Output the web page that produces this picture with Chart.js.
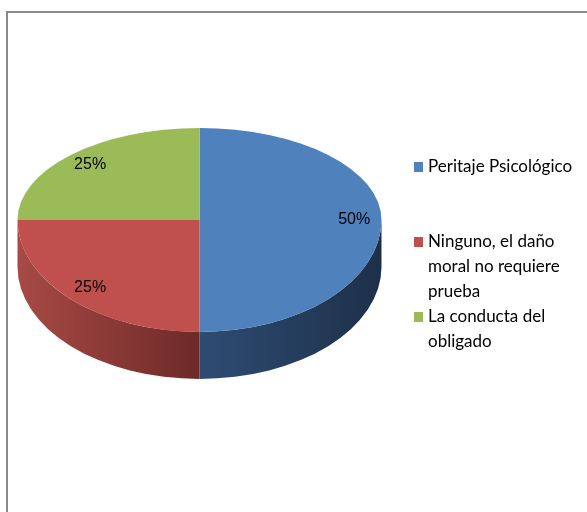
<!DOCTYPE html>
<html>
<head>
<meta charset="utf-8">
<script src="https://cdn.jsdelivr.net/npm/chart.js@4"></script>
<style>
  html, body { margin: 0; padding: 0; background: #fff; }
  #wrap { position: relative; width: 587px; height: 512px; }
</style>
</head>
<body>
<div id="wrap"><canvas id="pie" width="587" height="512"></canvas></div>
<script>
const labels = ["Peritaje Psicológico", "Ninguno, el daño moral no requiere prueba", "La conducta del obligado"];
const legendLines = [["Peritaje Psicológico"], ["Ninguno, el daño", "moral no requiere", "prueba"], ["La conducta del", "obligado"]];
const values = [50, 25, 25];
const topColors = ["#4F81BD", "#C0504D", "#9BBB59"];
const sideColors = [["#2E4C73", "#1E3049"], ["#A84A45", "#6D2A28"], ["#7A9445", "#5B6E33"]];

// tilted pie: far half flatter than near half, plus a rim
const FLAT_BACK = 0.505;
const FLAT_FRONT = 0.615;
const DEPTH = 47;

function faceGeom(chart) {
  const arc = chart.getDatasetMeta(0).data[0];
  const r = arc.outerRadius;
  return { cx: arc.x, cy: arc.y, rx: r, ryBack: r * FLAT_BACK, ryFront: r * FLAT_FRONT };
}

function squash(ctx, g, flat, upper) {
  ctx.beginPath();
  if (upper) ctx.rect(0, 0, 2000, g.cy);
  else ctx.rect(0, g.cy, 2000, 2000);
  ctx.clip();
  ctx.translate(g.cx, g.cy);
  ctx.scale(1, flat);
  ctx.translate(-g.cx, -g.cy);
}

const pie3d = {
  id: "pie3d",
  beforeDraw(chart) {
    const ctx = chart.ctx;
    ctx.save();
    ctx.fillStyle = "#fff";
    ctx.fillRect(0, 0, chart.width, chart.height);
    ctx.strokeStyle = "#8a8a8a";
    ctx.lineWidth = 2;
    ctx.strokeRect(7, 12, 620, 540);
    ctx.restore();
  },
  beforeDatasetsDraw(chart) {
    const ctx = chart.ctx;
    const g = faceGeom(chart);
    const arcs = chart.getDatasetMeta(0).data;

    // rim, only the front half (0..PI) shows
    arcs.forEach((arc, i) => {
      const a0 = Math.max(arc.startAngle, 0);
      const a1 = Math.min(arc.endAngle, Math.PI);
      if (a1 <= a0) return;
      const xa = g.cx + g.rx * Math.cos(a0);
      const xb = g.cx + g.rx * Math.cos(a1);
      const grad = ctx.createLinearGradient(Math.max(xa, xb), 0, Math.min(xa, xb), 0);
      grad.addColorStop(0, sideColors[i][1]);
      grad.addColorStop(1, sideColors[i][0]);
      ctx.save();
      ctx.beginPath();
      ctx.ellipse(g.cx, g.cy, g.rx, g.ryFront, 0, a0, a1, false);
      ctx.ellipse(g.cx, g.cy + DEPTH, g.rx, g.ryFront, 0, a1, a0, true);
      ctx.closePath();
      ctx.fillStyle = grad;
      ctx.fill();
      ctx.restore();
    });

    // far half of the top face
    ctx.save();
    squash(ctx, g, FLAT_BACK, true);
  },
  afterDatasetsDraw(chart) {
    const ctx = chart.ctx;
    ctx.restore();
    // near half of the top face
    const g = faceGeom(chart);
    ctx.save();
    squash(ctx, g, FLAT_FRONT, false);
    chart.getDatasetMeta(0).controller.draw();
    ctx.restore();
  },
  afterDraw(chart) {
    const ctx = chart.ctx;
    const g = faceGeom(chart);
    const arcs = chart.getDatasetMeta(0).data;
    const total = values.reduce((a, b) => a + b, 0);

    ctx.save();
    ctx.fillStyle = "#000";
    ctx.font = "16px 'Liberation Sans', Arial, sans-serif";
    ctx.textAlign = "center";
    ctx.textBaseline = "middle";
    arcs.forEach((arc, i) => {
      const mid = (arc.startAngle + arc.endAngle) / 2;
      const f = 0.85;
      const s = Math.sin(mid);
      const ry = s < 0 ? g.ryBack : g.ryFront;
      const x = g.cx + g.rx * f * Math.cos(mid);
      const y = g.cy + ry * f * s;
      ctx.fillText(Math.round(values[i] / total * 100) + "%", x, y);
    });

    // legend
    ctx.font = "17px Lato, 'Open Sans', sans-serif";
    ctx.textAlign = "left";
    legendLines.forEach((lines, i) => {
      const y0 = 167 + i * 75;
      ctx.fillStyle = topColors[i];
      ctx.fillRect(414, y0 - 5, 9, 10);
      ctx.fillStyle = "#000";
      lines.forEach((t, k) => ctx.fillText(t, 428, y0 + k * 25));
    });
    ctx.restore();
  }
};

new Chart(document.getElementById("pie"), {
  type: "pie",
  data: {
    labels: labels,
    datasets: [{
      data: values,
      backgroundColor: topColors,
      borderWidth: 0
    }]
  },
  options: {
    responsive: false,
    animation: false,
    events: [],
    layout: { padding: { left: 17, right: 205, top: 38, bottom: 110 } },
    plugins: {
      legend: { display: false },
      tooltip: { enabled: false }
    }
  },
  plugins: [pie3d]
});
</script>
</body>
</html>
